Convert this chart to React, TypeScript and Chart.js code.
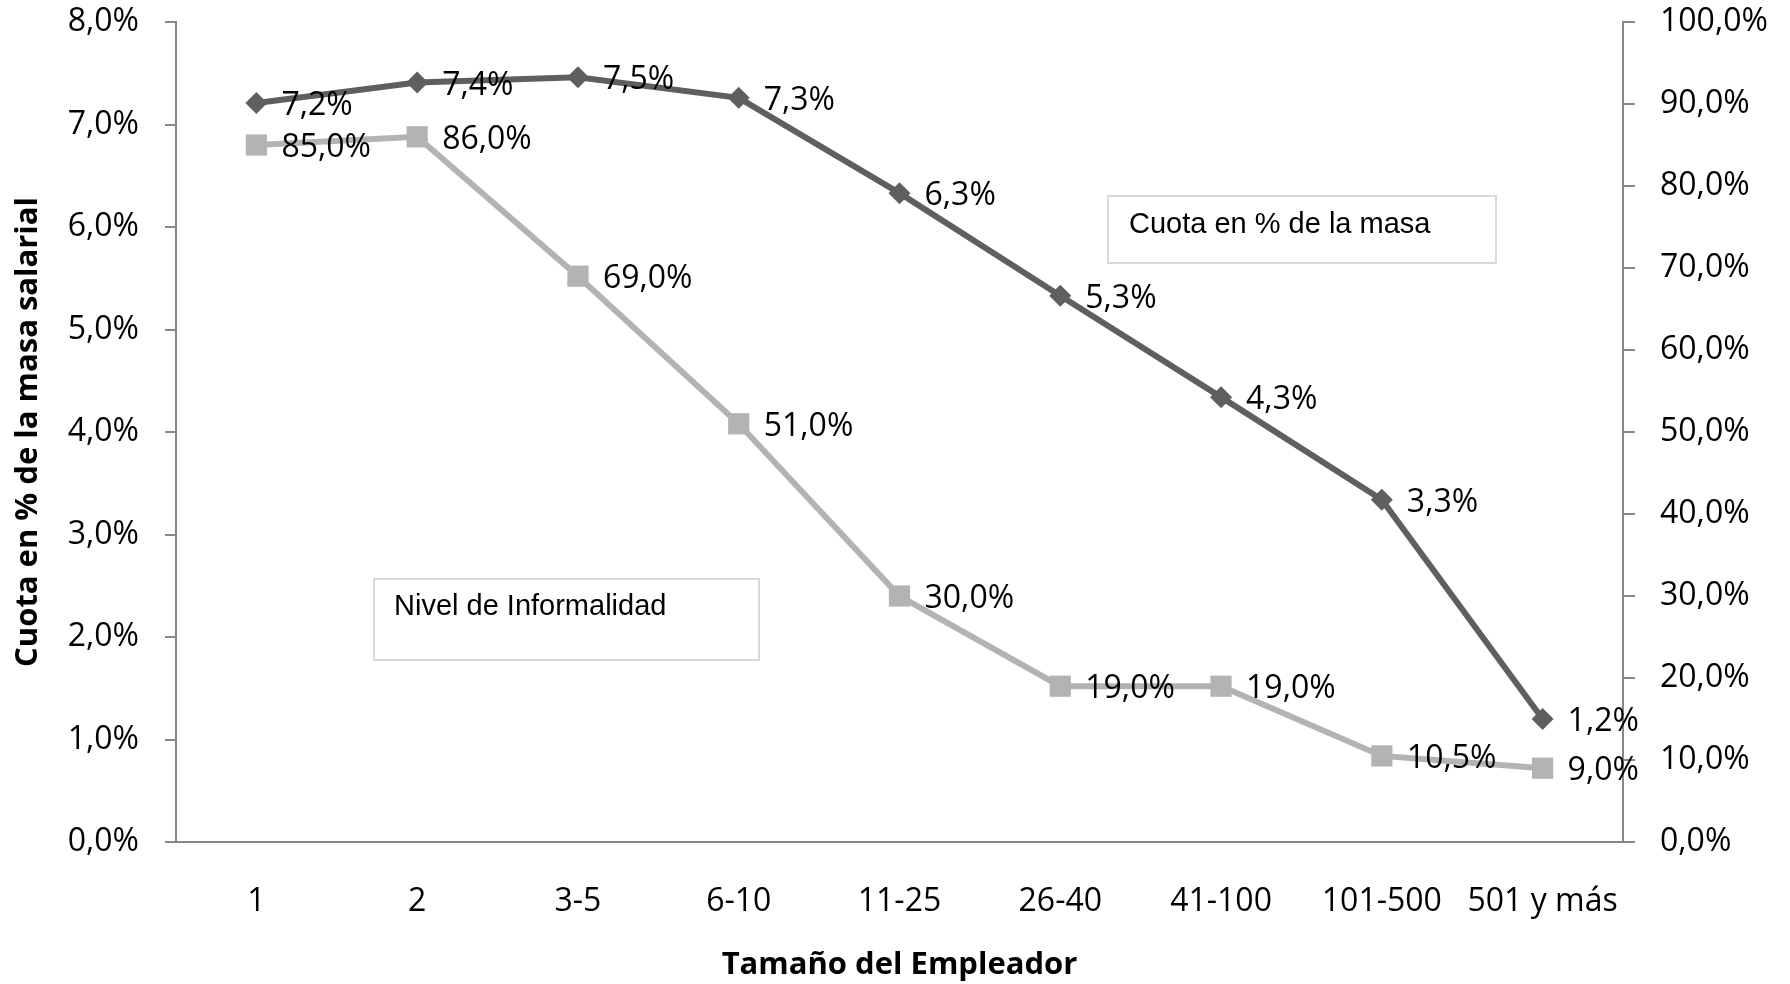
import React, { useEffect, useRef } from 'react';
import { Chart, registerables } from 'chart.js';

Chart.register(...registerables);

const categories = ['1', '2', '3-5', '6-10', '11-25', '26-40', '41-100', '101-500', '501 y más'];
const cuotaMasa = [7.21, 7.41, 7.46, 7.26, 6.33, 5.33, 4.34, 3.34, 1.2];
const informalidad = [85.0, 86.0, 69.0, 51.0, 30.0, 19.0, 19.0, 10.5, 9.0];
const cuotaLabel = 'Cuota en % de la masa';
const informalidadLabel = 'Nivel de Informalidad';
const yTitle = 'Cuota en % de la masa salarial';
const xTitle = 'Tamaño del Empleador';

const fmt = (v: number) => v.toFixed(1).replace('.', ',') + '%';

const TICK_FONT = { family: '"Open Sans", sans-serif', size: 32 };
const TITLE_FONT = { family: '"Open Sans", sans-serif', size: 31, weight: 'bold' as const };
const AXIS_COLOR = '#878787';

const labelPlugin = {
  id: 'valueLabels',
  afterDatasetsDraw(chart: any) {
    const ctx = chart.ctx;
    ctx.save();
    ctx.font = '32px "Open Sans", sans-serif';
    ctx.fillStyle = '#000';
    ctx.textAlign = 'left';
    ctx.textBaseline = 'middle';
    chart.data.datasets.forEach((ds: any, i: number) => {
      const meta = chart.getDatasetMeta(i);
      meta.data.forEach((pt: any, j: number) => {
        ctx.fillText(fmt(ds.data[j]), pt.x + 25, pt.y + 3);
      });
    });
    const boxes = [
      { x: 1108, y: 196, w: 388, h: 67, text: cuotaLabel, tx: 1129, ty: 225 },
      { x: 374, y: 579, w: 385, h: 81, text: informalidadLabel, tx: 394, ty: 607 },
    ];
    ctx.font = '29px "Liberation Sans", Arial, sans-serif';
    boxes.forEach((b) => {
      ctx.fillStyle = '#fff';
      ctx.fillRect(b.x, b.y, b.w, b.h);
      ctx.strokeStyle = '#d9d9d9';
      ctx.lineWidth = 2;
      ctx.strokeRect(b.x, b.y, b.w, b.h);
      ctx.fillStyle = '#000';
      ctx.fillText(b.text, b.tx, b.ty);
    });
    ctx.restore();
  },
};

const noPad = (s: any) => {
  s.paddingTop = 0;
  s.paddingBottom = 0;
  s.paddingLeft = 0;
  s.paddingRight = 0;
};

export default function App() {
  const ref = useRef<HTMLCanvasElement | null>(null);

  useEffect(() => {
    document.body.style.margin = '0';
    const canvas = ref.current;
    if (!canvas) return;
    const chart = new Chart(canvas, {
      type: 'line',
      data: {
        labels: categories,
        datasets: [
          {
            label: cuotaLabel,
            data: cuotaMasa,
            yAxisID: 'y',
            borderColor: '#5f5f5f',
            backgroundColor: '#5f5f5f',
            borderWidth: 6,
            pointStyle: 'rectRot',
            pointRadius: 11,
            pointBorderWidth: 0,
            tension: 0,
          },
          {
            label: informalidadLabel,
            data: informalidad,
            yAxisID: 'y2',
            borderColor: '#b3b3b3',
            backgroundColor: '#b3b3b3',
            borderWidth: 6,
            pointStyle: 'rect',
            pointRadius: 15,
            pointBorderWidth: 0,
            tension: 0,
          },
        ],
      },
      options: {
        responsive: false,
        animation: false,
        devicePixelRatio: 1,
        layout: { padding: { top: 22, left: 0, right: 0, bottom: 0 } },
        plugins: {
          legend: { display: false },
          tooltip: { enabled: false },
        },
        scales: {
          x: {
            type: 'category',
            offset: true,
            grid: { display: true, drawOnChartArea: false, drawTicks: false, tickLength: 0 },
            border: { display: true, color: AXIS_COLOR, width: 2 },
            ticks: { font: TICK_FONT, color: '#000', padding: 41, maxRotation: 0, autoSkip: false },
            title: { display: true, text: xTitle, font: TITLE_FONT, color: '#000', padding: { top: 0, bottom: 0 } },
            afterFit: (s: any) => { s.height = 142; noPad(s); },
          },
          y: {
            position: 'left',
            min: 0,
            max: 8,
            ticks: { stepSize: 1, font: TICK_FONT, color: '#000', padding: 26, callback: (v: any) => fmt(Number(v)) },
            grid: { drawOnChartArea: false, drawTicks: true, tickLength: 11, color: AXIS_COLOR, lineWidth: 2 },
            border: { display: true, color: AXIS_COLOR, width: 2 },
            title: { display: true, text: yTitle, font: TITLE_FONT, color: '#000', padding: { top: 10, bottom: 0 } },
            afterFit: (s: any) => { s.width = 176; noPad(s); },
          },
          y2: {
            position: 'right',
            min: 0,
            max: 100,
            ticks: { stepSize: 10, font: TICK_FONT, color: '#000', padding: 25, callback: (v: any) => fmt(Number(v)) },
            grid: { drawOnChartArea: false, drawTicks: true, tickLength: 12, color: AXIS_COLOR, lineWidth: 2 },
            border: { display: true, color: AXIS_COLOR, width: 2 },
            afterFit: (s: any) => { s.width = 167; noPad(s); },
          },
        },
      },
      plugins: [labelPlugin],
    });
    return () => chart.destroy();
  }, []);

  return (
    <div style={{ width: 1790, height: 984, background: '#fff' }}>
      <canvas ref={ref} width={1790} height={984} style={{ display: 'block' }} />
    </div>
  );
}
